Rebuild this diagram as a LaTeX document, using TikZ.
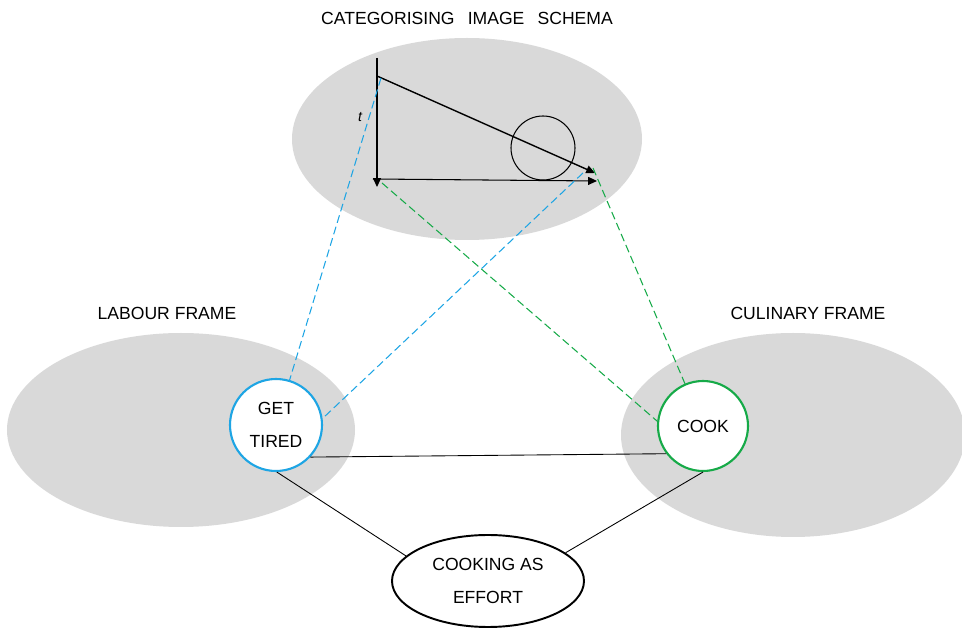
\documentclass[tikz,border=0pt]{standalone}
\usepackage{fontspec}
\setmainfont{Liberation Sans}
\usepackage{tikz}
\usetikzlibrary{arrows.meta,positioning,calc,shapes.geometric}
\definecolor{SchemaGray}{RGB}{217,217,217}
\definecolor{LinkBlue}{RGB}{30,165,228}
\definecolor{LinkGreen}{RGB}{22,170,72}

\begin{document}
\begin{tikzpicture}[thick,>={Triangle[length=5pt,width=4.5pt]},
    framezone/.style={ellipse,fill=SchemaGray,inner sep=0pt},
    heading/.style={font=\fontsize{10}{12}\selectfont},
    concept/.style={circle,fill=white,minimum size=1.84cm,inner sep=0pt,line width=1.2pt,align=center,font=\fontsize{10}{18.5}\selectfont},
    blend/.style={ellipse,draw,fill=white,minimum width=3.84cm,minimum height=1.84cm,inner sep=0pt,line width=1.1pt,align=center,font=\fontsize{10}{18.5}\selectfont},
    link/.style={semithick,dash pattern=on 4.5pt off 2.3pt}]
    \useasboundingbox (0,0) rectangle (19.24,12.58);

    % Frames
    \node[framezone,minimum width=7cm,minimum height=4.04cm] (schema) at (9.34,9.80) {};
    \node[framezone,minimum width=6.96cm,minimum height=3.88cm] (labour) at (3.62,3.98) {};
    \node[framezone,minimum width=6.88cm,minimum height=4.08cm] (culinary) at (15.86,3.88) {};

    \node[heading] (schematitle) at (9.34,12.22) {CATEGORISING\hspace{0.75em}IMAGE\hspace{0.75em}SCHEMA};
    \node[heading] (labourtitle) at (3.34,6.32) {LABOUR FRAME};
    \node[heading] (culinarytitle) at (16.16,6.32) {CULINARY FRAME};

    % Image schema
    \draw[->,semithick] (7.54,11.42) -- (7.54,8.84);
    \draw[->,semithick] (7.46,9.0) -- (11.94,8.96);
    \draw[->] (7.54,11.06) -- (11.9,9.12);
    \draw[semithick] (10.86,9.62) circle (0.64);
    \node[font=\fontsize{8}{9}\selectfont\itshape] (tlabel) at (7.2,10.24) {t};

    \coordinate (s1) at (7.62,11.02);
    \coordinate (s2) at (11.66,9.12);
    \coordinate (s3) at (7.64,8.92);
    \coordinate (s4) at (11.86,9.22);

    % Concepts
    \node[concept,draw=LinkBlue] (tired) at (5.52,4.08) {GET\\TIRED};
    \node[concept,draw=LinkGreen,minimum size=1.8cm] (cook) at (14.06,4.06) {COOK};
    \node[blend] (effort) at (9.76,0.96) {COOKING AS\\EFFORT};

    % Mappings
    \draw[link,LinkBlue] (s1) -- (tired);
    \draw[link,LinkBlue] (s2) -- (tired.8);
    \draw[link,LinkGreen] (s3) -- (cook.174);
    \draw[link,LinkGreen] (s4) -- (cook);

    \draw[line width=0.5pt] (tired.-43) -- (cook.-143);
    \draw[line width=0.5pt] (tired.-89) -- (effort.163);
    \draw[line width=0.5pt] (cook.-90) -- (effort.20);
\end{tikzpicture}
\end{document}
